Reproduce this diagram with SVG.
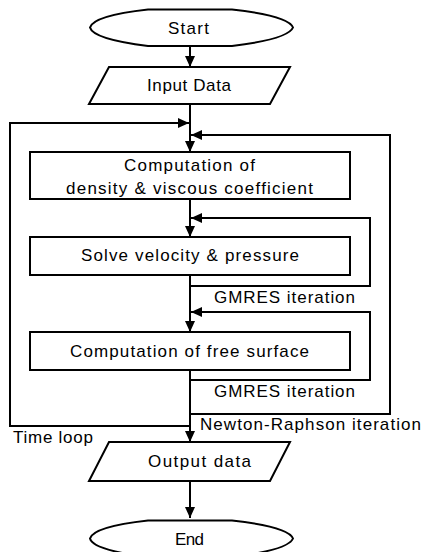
<svg xmlns="http://www.w3.org/2000/svg" width="423" height="552" viewBox="0 0 423 552">
<defs>
<marker id="ah" markerWidth="11" markerHeight="10" refX="11" refY="5" orient="auto" markerUnits="userSpaceOnUse">
<path d="M0,0 L11,5 L0,10 Z" fill="#000"/>
</marker>
<style>
.sh{fill:#fff;stroke:#000;stroke-width:2}
.ln{fill:none;stroke:#000;stroke-width:2}
.ar{fill:none;stroke:#000;stroke-width:2;marker-end:url(#ah)}
text{font-family:"Liberation Sans",Arial,sans-serif;font-size:17px;fill:#000}
</style>
</defs>
<rect width="423" height="552" fill="#fff"/>
<g id="connectors">
<line class="ar" x1="190" y1="46" x2="190" y2="67"/>
<line class="ar" x1="190" y1="104" x2="190" y2="152"/>
<polyline class="ar" points="190,426 10,426 10,123 189,123"/>
<polyline class="ar" points="190,414 390,414 390,135 191,135"/>
<line class="ar" x1="190" y1="199" x2="190" y2="237"/>
<polyline class="ar" points="190,286 370,286 370,218 191,218"/>
<line class="ar" x1="190" y1="275" x2="190" y2="332"/>
<polyline class="ar" points="190,380 370,380 370,312 191,312"/>
<line class="ar" x1="190" y1="370" x2="190" y2="442"/>
<line class="ar" x1="190" y1="481" x2="190" y2="518"/>
</g>
<g id="start">
<path class="sh" d="M90,27.5 C92,20 108,14 148,9.5 L232,9.5 C272,14 290,20 293,27.5 C290,35 272,41 232,46 L148,46 C108,41 92,35 90,27.5 Z"/>
<text x="168" y="34" textLength="41" lengthAdjust="spacing">Start</text>
</g>
<g id="input">
<polygon class="sh" points="109,67 290,67 270,104 89,104"/>
<text x="147" y="91" textLength="84" lengthAdjust="spacing">Input Data</text>
</g>
<g id="density">
<rect class="sh" x="30" y="152" width="320" height="47"/>
<text x="124" y="170.5" textLength="131" lengthAdjust="spacing">Computation of</text>
<text x="66" y="193.5" textLength="247" lengthAdjust="spacing">density &amp; viscous coefficient</text>
</g>
<g id="solve">
<rect class="sh" x="30" y="237" width="320" height="38"/>
<text x="81" y="260.5" textLength="218" lengthAdjust="spacing">Solve velocity &amp; pressure</text>
</g>
<g id="surface">
<rect class="sh" x="30" y="332" width="320" height="38"/>
<text x="70" y="356.5" textLength="239" lengthAdjust="spacing">Computation of free surface</text>
</g>
<g id="labels">
<text x="214" y="303" textLength="141" lengthAdjust="spacing">GMRES iteration</text>
<text x="214" y="396.5" textLength="141" lengthAdjust="spacing">GMRES iteration</text>
<text x="200" y="430" textLength="221" lengthAdjust="spacing">Newton-Raphson iteration</text>
<text x="13" y="443" textLength="80" lengthAdjust="spacing">Time loop</text>
</g>
<g id="output">
<polygon class="sh" points="109,442 290,442 270,481 89,481"/>
<text x="148" y="466.5" textLength="103" lengthAdjust="spacing">Output data</text>
</g>
<g id="end">
<path class="sh" d="M90,538.5 C92,531 108,525 148,520.5 L232,520.5 C272,525 290,531 293,538.5 C290,546 272,552 232,557 L148,557 C108,552 92,546 90,538.5 Z"/>
<text x="175" y="545" textLength="29" lengthAdjust="spacing">End</text>
</g>
</svg>
